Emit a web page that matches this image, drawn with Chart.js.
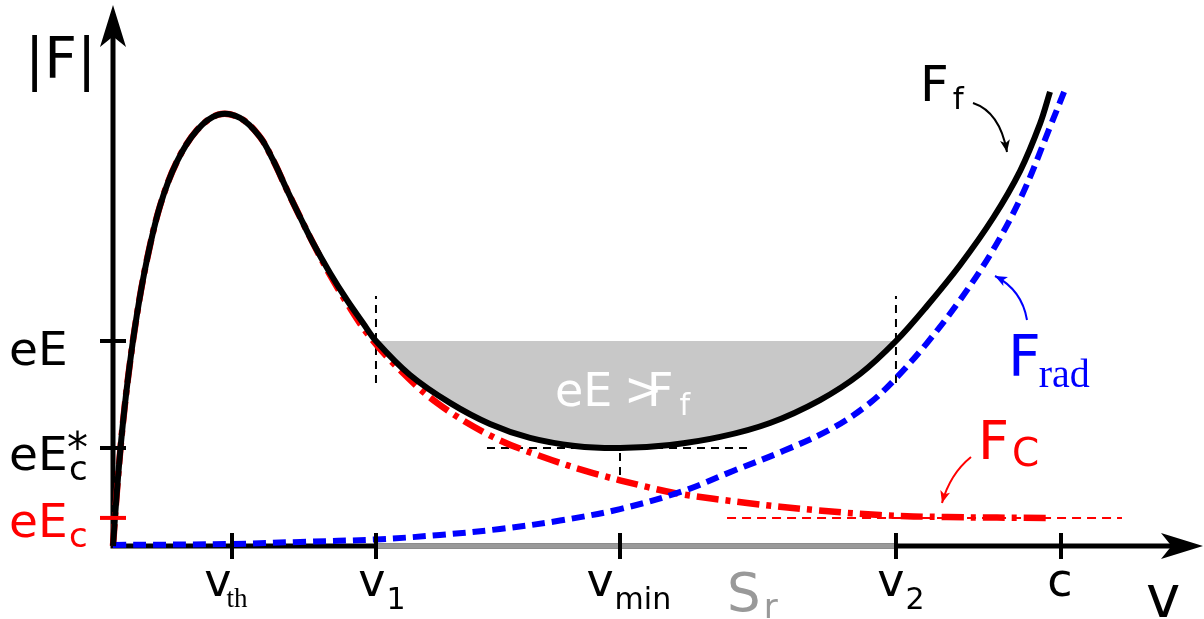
<!DOCTYPE html>
<html>
<head>
<meta charset="utf-8">
<script src="https://cdn.jsdelivr.net/npm/chart.js@4/dist/chart.umd.min.js"></script>
<style>
  body { margin: 0; background: #fff; }
  canvas { display: block; }
</style>
</head>
<body>
<canvas id="grafico" width="1204" height="619"></canvas>
<script>
// Curvas: v en unidades de c, |F| en unidades de eE
const vFf = [0, 0.0039, 0.0092, 0.0161, 0.0250, 0.0355, 0.0496, 0.0672, 0.0883, 0.1111, 0.1340, 0.1551, 0.1688,
  0.1835, 0.1973, 0.2110, 0.2289, 0.2468, 0.2637, 0.2774, 0.3133, 0.3555, 0.3977, 0.4399, 0.4873, 0.5348,
  0.5876, 0.6403, 0.6930, 0.7458, 0.7880, 0.8259, 0.8586, 0.8935, 0.9283, 0.9568, 0.9778, 0.9884];
const fFf = [0, 0.254, 0.541, 0.829, 1.122, 1.390, 1.659, 1.873, 2.027, 2.104, 2.088, 1.995, 1.883,
  1.737, 1.605, 1.478, 1.332, 1.200, 1.088, 1.000, 0.834, 0.698, 0.595, 0.527, 0.488, 0.478,
  0.493, 0.532, 0.600, 0.712, 0.839, 1.000, 1.171, 1.371, 1.600, 1.829, 2.059, 2.215];

const vFc = [0, 0.0039, 0.0092, 0.0161, 0.0250, 0.0355, 0.0496, 0.0672, 0.0883, 0.1111, 0.1340, 0.1551, 0.1688,
  0.1835, 0.1973, 0.2110, 0.2289, 0.2468, 0.2679, 0.2954, 0.3418, 0.4008, 0.4536, 0.5063, 0.5633, 0.5981,
  0.6688, 0.7384, 0.8091, 0.8797, 0.9852];
const fFc = [0, 0.254, 0.541, 0.829, 1.122, 1.390, 1.659, 1.873, 2.027, 2.104, 2.088, 1.995, 1.883,
  1.737, 1.605, 1.478, 1.322, 1.185, 1.039, 0.893, 0.698, 0.532, 0.434, 0.356, 0.288, 0.254,
  0.210, 0.176, 0.151, 0.141, 0.137];

const vFrad = [0, 0.1255, 0.1973, 0.2774, 0.3449, 0.4082, 0.4715, 0.5348, 0.6013, 0.6540, 0.7068, 0.7595,
  0.7985, 0.8270, 0.8586, 0.8935, 0.9283, 0.9599, 0.9884, 1.0053];
const fFrad = [0.005, 0.010, 0.020, 0.032, 0.054, 0.083, 0.124, 0.180, 0.268, 0.366, 0.463, 0.576,
  0.698, 0.824, 0.990, 1.200, 1.444, 1.722, 2.044, 2.239];

// Marcas de los ejes
const ticksV = [0.1255, 0.2774, 0.5348, 0.8259, 1.0];
const etiquetasV = [['v', 'th'], ['v', '1'], ['v', 'min'], ['v', '2'], ['c', '']];
const ticksF = [1.0, 0.478, 0.137];   // eE, eE*c, eEc

const [vth, v1, vmin, v2, c] = ticksV;
const [eE, eEcEst, eEc] = ticksF;

const pts = (xs, ys) => xs.map((x, i) => ({ x, y: ys[i] }));

const sans = '"DejaVu Sans", Verdana, sans-serif';
const serif = '"Liberation Serif", "Times New Roman", serif';

function texto(ctx, s, x, y, size, color, fam) {
  ctx.font = size + 'px ' + (fam || sans);
  ctx.fillStyle = color;
  ctx.fillText(s, x, y);
  return ctx.measureText(s).width;
}

function punta(ctx, x, y, ang, largo, ancho, color) {
  ctx.save();
  ctx.translate(x, y);
  ctx.rotate(ang);
  ctx.fillStyle = color;
  ctx.beginPath();
  ctx.moveTo(0, 0);
  ctx.lineTo(-largo, -ancho);
  ctx.lineTo(-largo * 0.75, 0);
  ctx.lineTo(-largo, ancho);
  ctx.closePath();
  ctx.fill();
  ctx.restore();
}

function flecha(ctx, x0, y0, cx, cy, x1, y1, color) {
  ctx.save();
  ctx.strokeStyle = color;
  ctx.lineWidth = 2;
  ctx.beginPath();
  ctx.moveTo(x0, y0);
  ctx.quadraticCurveTo(cx, cy, x1, y1);
  ctx.stroke();
  punta(ctx, x1, y1, Math.atan2(y1 - cy, x1 - cx), 12, 5, color);
  ctx.restore();
}

const ejes = {
  id: 'ejes',
  beforeDatasetsDraw(chart) {
    const ctx = chart.ctx;
    const sx = chart.scales.x, sy = chart.scales.y;
    const x0 = sx.getPixelForValue(0), y0 = sy.getPixelForValue(0);
    ctx.save();
    ctx.strokeStyle = '#000';
    ctx.lineWidth = 5;
    ctx.beginPath();
    ctx.moveTo(x0, y0 + 2.5);
    ctx.lineTo(x0, 36);
    ctx.moveTo(x0 - 2.5, y0);
    ctx.lineTo(1172, y0);
    ctx.stroke();
    punta(ctx, x0, 5, -Math.PI / 2, 42, 13, '#000');
    punta(ctx, 1203, y0, 0, 42, 13, '#000');
    ctx.restore();
  },
  afterDatasetsDraw(chart) {
    const ctx = chart.ctx;
    const sx = chart.scales.x, sy = chart.scales.y;
    const x0 = sx.getPixelForValue(0), y0 = sy.getPixelForValue(0);
    ctx.save();
    ctx.lineWidth = 4;
    ticksV.forEach(v => {
      const x = sx.getPixelForValue(v);
      ctx.strokeStyle = '#000';
      ctx.beginPath(); ctx.moveTo(x, y0 - 13); ctx.lineTo(x, y0 + 13); ctx.stroke();
    });
    ticksF.forEach((f, i) => {
      const y = sy.getPixelForValue(f);
      ctx.strokeStyle = i === 2 ? '#ff0000' : '#000';
      ctx.beginPath(); ctx.moveTo(x0 - 13, y); ctx.lineTo(x0 + 13, y); ctx.stroke();
    });
    ctx.restore();
  },
  afterDraw(chart) {
    const ctx = chart.ctx;
    const sx = chart.scales.x;
    ctx.save();
    ctx.textBaseline = 'alphabetic';

    // etiquetas del eje v
    const desp = [-14, -4, -20, -5, -1];
    etiquetasV.forEach((e, i) => {
      const x = sx.getPixelForValue(ticksV[i]) + desp[i];
      ctx.font = '46px ' + sans;
      const w = ctx.measureText(e[0]).width;
      texto(ctx, e[0], x - w / 2, 596, 46, '#000');
      if (i === 0) texto(ctx, e[1], x + w / 2 - 5, 607, 27, '#000', serif);
      else if (e[1]) texto(ctx, e[1], x + w / 2 + 1, 609, 30, '#000');
    });
    texto(ctx, 'v', 1146, 617, 58, '#000');
    let w = texto(ctx, 'S', 727, 611, 53, '#999');
    texto(ctx, 'r', 727 + w + 3, 618, 34, '#999');

    // etiquetas del eje |F|
    texto(ctx, '|F|', 25, 78, 57, '#000');
    texto(ctx, 'eE', 9, 365, 47, '#000');
    texto(ctx, 'eE', 9, 470, 47, '#000');
    texto(ctx, '*', 67, 462, 42, '#000');
    texto(ctx, 'c', 69, 480, 34, '#000');
    texto(ctx, 'eE', 9, 537, 47, '#ff0000');
    texto(ctx, 'c', 69, 547, 34, '#ff0000');

    // nombres de las curvas
    w = texto(ctx, 'F', 920, 101, 50, '#000');
    texto(ctx, 'f', 920 + w + 4, 109, 31, '#000');
    flecha(ctx, 973, 103, 1000, 112, 1007, 152, '#000');

    w = texto(ctx, 'F', 1008, 376, 57, '#0000ff');
    texto(ctx, 'rad', 1008 + w - 2, 387, 40, '#0000ff', serif);
    flecha(ctx, 1027, 320, 1022, 290, 995, 276, '#0000ff');

    w = texto(ctx, 'F', 978, 459, 54, '#ff0000');
    texto(ctx, 'C', 978 + w + 3, 466, 39, '#ff0000');
    flecha(ctx, 971, 457, 950, 474, 942, 503, '#ff0000');

    // region eE > Ff
    texto(ctx, 'eE', 555, 406, 46, '#fff');
    texto(ctx, '>', 624, 405, 46, '#fff');
    w = texto(ctx, 'F', 647, 406, 46, '#fff');
    texto(ctx, 'f', 647 + w + 6, 415, 30, '#fff');
    ctx.restore();
  }
};

const region = pts(vFf, fFf).filter(p => p.x >= v1 && p.x <= v2);

const linea = (data, color, ancho, dash) => ({
  data, borderColor: color, borderWidth: ancho, borderDash: dash || [],
  pointRadius: 0, fill: false, clip: false, borderCapStyle: 'butt', tension: 0
});

new Chart(document.getElementById('grafico'), {
  type: 'scatter',
  data: {
    datasets: [
      Object.assign(linea(pts(vFf, fFf), '#000', 6), { tension: 0.35 }),
      Object.assign(linea(pts(vFrad, fFrad), '#0000ff', 6, [13, 7]), { tension: 0.35 }),
      Object.assign(linea(pts(vFc, fFc), '#ff0000', 6.5, [22, 7, 5, 7]), { tension: 0.35 }),
      linea([{ x: 0.6477, y: eEc }, { x: 1.0643, y: eEc }], '#ff0000', 2, [9, 6]),
      linea([{ x: v1, y: 0.795 }, { x: v1, y: 1.22 }], '#000', 2, [8, 6]),
      linea([{ x: v2, y: 0.795 }, { x: v2, y: 1.22 }], '#000', 2, [8, 6]),
      linea([{ x: 0.3945, y: eEcEst }, { x: 0.6688, y: eEcEst }], '#000', 2, [8, 6]),
      linea([{ x: vmin, y: 0.346 }, { x: vmin, y: eEcEst }], '#000', 2, [8, 6]),
      linea([{ x: v1, y: 0 }, { x: v2, y: 0 }], '#999', 5),
      {
        data: region, borderWidth: 0, pointRadius: 0, tension: 0.35,
        backgroundColor: '#c8c8c8', fill: { value: eE }
      }
    ].map(d => Object.assign({ showLine: true }, d))
  },
  options: {
    responsive: false,
    animation: false,
    layout: { padding: { left: 113, right: 4, top: 5, bottom: 73 } },
    scales: {
      x: { type: 'linear', display: false, min: 0, max: 1.1466 },
      y: { type: 'linear', display: false, min: 0, max: 2.639 }
    },
    plugins: { legend: { display: false }, tooltip: { enabled: false } }
  },
  plugins: [ejes]
});
</script>
</body>
</html>
